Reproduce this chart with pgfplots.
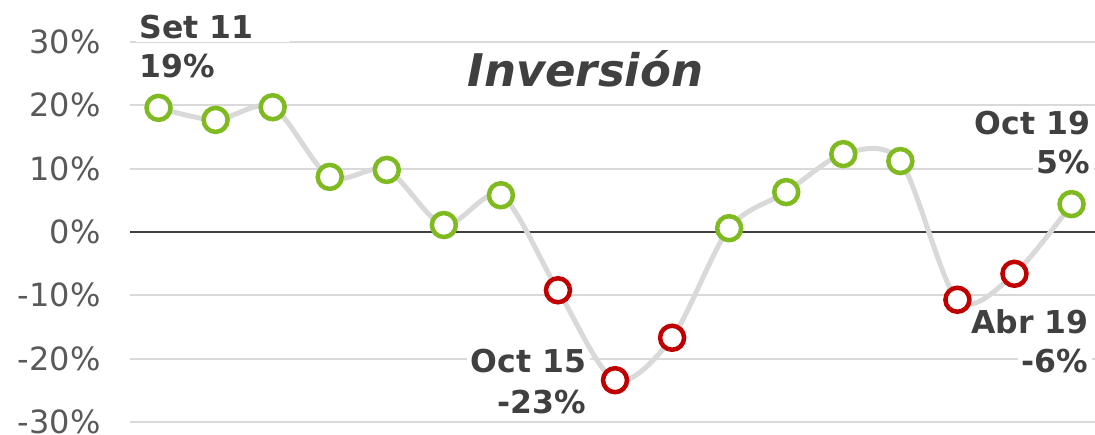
\documentclass[border=0pt]{standalone}
\usepackage{pgfplots}
\pgfplotsset{compat=1.18}
\usepackage{fontspec}
\setmainfont{DejaVu Sans}
\definecolor{gridc}{HTML}{D9D9D9}
\definecolor{tickc}{HTML}{595959}
\definecolor{labc}{HTML}{404040}
\definecolor{grn}{HTML}{7FBA21}
\definecolor{rd}{HTML}{C00000}
\begin{document}
\begin{tikzpicture}
\begin{axis}[
  at={(0,0)}, anchor=south west,
  scale only axis, width=965.5pt, height=380pt,
  xmin=-0.5, xmax=16.42, ymin=-30, ymax=30,
  axis line style={draw=none},
  xtick=\empty,
  ytick={-30,-20,-10,0,10,20,30},
  yticklabels={-30\%,-20\%,-10\%,0\%,10\%,20\%,30\%},
  yticklabel style={font=\fontsize{32}{38}\selectfont, text=tickc, xshift=-26pt},
  major tick length=0pt,
  ymajorgrids, grid style={gridc, line width=2pt},
  clip=false,
]
\draw[labc, line width=2pt] (axis cs:-0.5,0) -- (axis cs:16.42,0);
\begin{scope}[every node/.style={fill=white, inner sep=4pt, text=labc, font=\fontsize{31.5}{38}\selectfont\bfseries}]
\node[anchor=base west] at (axis cs:-0.40,30.63) {Set 11\hspace*{32pt}};
\node[anchor=base west] at (axis cs:-0.40,24.32) {19\%};
\node[anchor=base east] at (axis cs:7.57,-22.26) {Oct 15};
\node[anchor=base east] at (axis cs:7.57,-28.58) {-23\%};
\node[anchor=base east] at (axis cs:16.40,15.32) {Oct 19};
\node[anchor=base east] at (axis cs:16.40,9.16) {5\%};
\node[anchor=base east] at (axis cs:16.37,-15.95) {Abr 19};
\node[anchor=base east] at (axis cs:16.37,-22.26) {-6\%};
\end{scope}
\node[anchor=base, text=labc, font=\fontsize{45}{54}\selectfont\bfseries\itshape] at (axis cs:7.48,23.05) {Inversión};
\addplot[gridc, line width=5pt, smooth, no marks] coordinates {
(0,19.6) (1,17.7) (2,19.7) (3,8.7) (4,9.8) (5,1.1) (6,5.8) (7,-9.2) (8,-23.4) (9,-16.7) (10,0.6) (11,6.3) (12,12.3) (13,11.2) (14,-10.7) (15,-6.6) (16,4.4)};
\addplot[only marks, mark=*, mark size=12pt, mark options={draw=grn, fill=white, line width=4.5pt}] coordinates {
(0,19.6) (1,17.7) (2,19.7) (3,8.7) (4,9.8) (5,1.1) (6,5.8) (10,0.6) (11,6.3) (12,12.3) (13,11.2) (16,4.4)};
\addplot[only marks, mark=*, mark size=12pt, mark options={draw=rd, fill=white, line width=4.5pt}] coordinates {
(7,-9.2) (8,-23.4) (9,-16.7) (14,-10.7) (15,-6.6)};
\end{axis}
\pgfresetboundingbox
\path (-130pt,-13pt) rectangle (965pt,422pt);
\end{tikzpicture}
\end{document}
